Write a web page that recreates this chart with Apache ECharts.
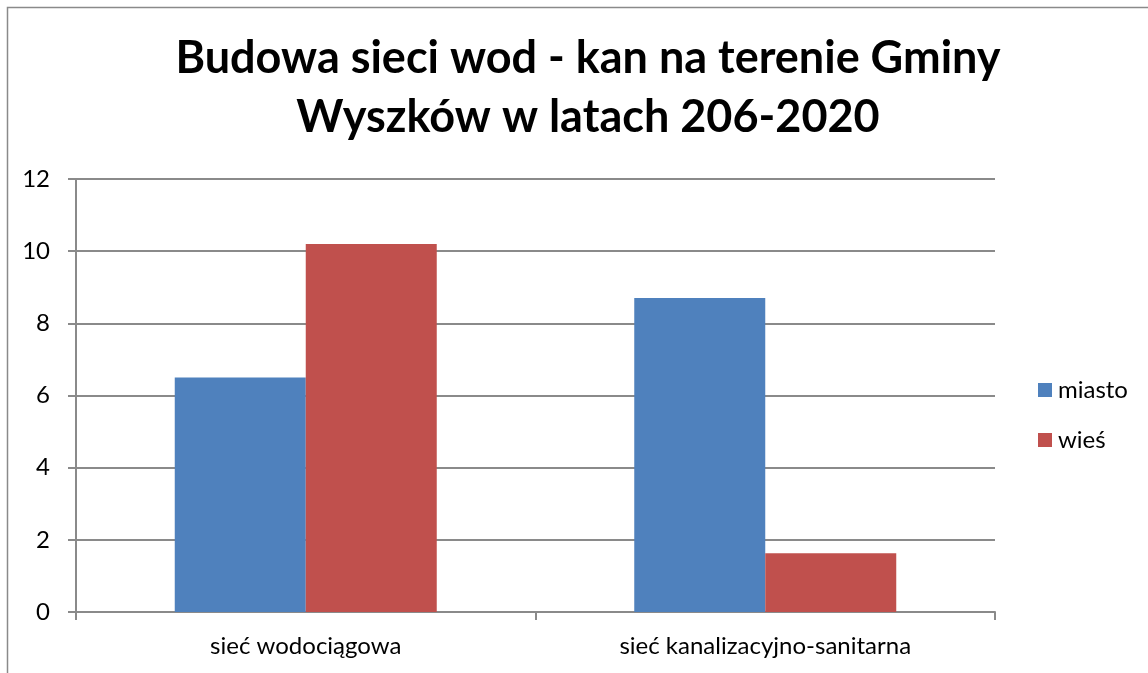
<!DOCTYPE html>
<html>
<head>
<meta charset="utf-8">
<script src="https://cdn.jsdelivr.net/npm/echarts@6/dist/echarts.min.js"></script>
<style>
  html, body { margin: 0; padding: 0; background: #fff; }
  #chart { width: 1148px; height: 673px; }
</style>
</head>
<body>
<div id="chart"></div>
<script>
// dane wykresu
const categories = ['sieć wodociągowa', 'sieć kanalizacyjno-sanitarna'];
const seriesNames = ['miasto', 'wieś'];
const miastoValues = [6.5, 8.7];
const wiesValues = [10.2, 1.63];
const titleText = 'Budowa sieci wod - kan na terenie Gminy\nWyszków w latach 206-2020';

const FONT = 'Lato';
const GRAY = '#8a8a8a';

const chart = echarts.init(document.getElementById('chart'));

chart.setOption({
    animation: false,
    title: {
        text: titleText,
        left: 583,
        top: 24,
        textAlign: 'center',
        textStyle: {
            fontFamily: FONT,
            fontWeight: 'bold',
            fontSize: 45,
            lineHeight: 59,
            color: '#000'
        }
    },
    legend: {
        orient: 'vertical',
        left: 1038,
        top: 378,
        padding: 0,
        itemWidth: 14,
        itemHeight: 14,
        itemGap: 26,
        icon: 'rect',
        textStyle: {
            fontFamily: FONT,
            fontSize: 24,
            lineHeight: 24,
            color: '#000',
            padding: [0, 0, 0, 1]
        },
        data: seriesNames
    },
    grid: {
        left: 76,
        right: 153,
        top: 179,
        bottom: 61
    },
    xAxis: {
        type: 'category',
        data: categories,
        axisLine: { lineStyle: { color: GRAY, width: 2 } },
        axisTick: { show: true, length: 8, lineStyle: { color: GRAY, width: 2 } },
        axisLabel: {
            margin: 22,
            fontFamily: FONT,
            fontSize: 24,
            color: '#000'
        }
    },
    yAxis: {
        type: 'value',
        min: 0,
        max: 12,
        interval: 2,
        axisLine: { show: true, lineStyle: { color: GRAY, width: 2 } },
        axisTick: { show: true, length: 8, lineStyle: { color: GRAY, width: 2 } },
        splitLine: { lineStyle: { color: GRAY, width: 2 } },
        axisLabel: {
            margin: 26,
            fontFamily: FONT,
            fontSize: 24,
            color: '#000'
        }
    },
    series: [
        {
            name: seriesNames[0],
            type: 'bar',
            data: miastoValues,
            barWidth: 131,
            barGap: '0%',
            itemStyle: { color: '#4F81BD' }
        },
        {
            name: seriesNames[1],
            type: 'bar',
            data: wiesValues,
            barWidth: 131,
            barGap: '0%',
            itemStyle: { color: '#C0504D' }
        }
    ],
    graphic: [{
        type: 'rect',
        silent: true,
        shape: { x: 7.5, y: 7.5, width: 1200, height: 700 },
        style: { fill: 'none', stroke: GRAY, lineWidth: 1.5 }
    }]
});
</script>
</body>
</html>
